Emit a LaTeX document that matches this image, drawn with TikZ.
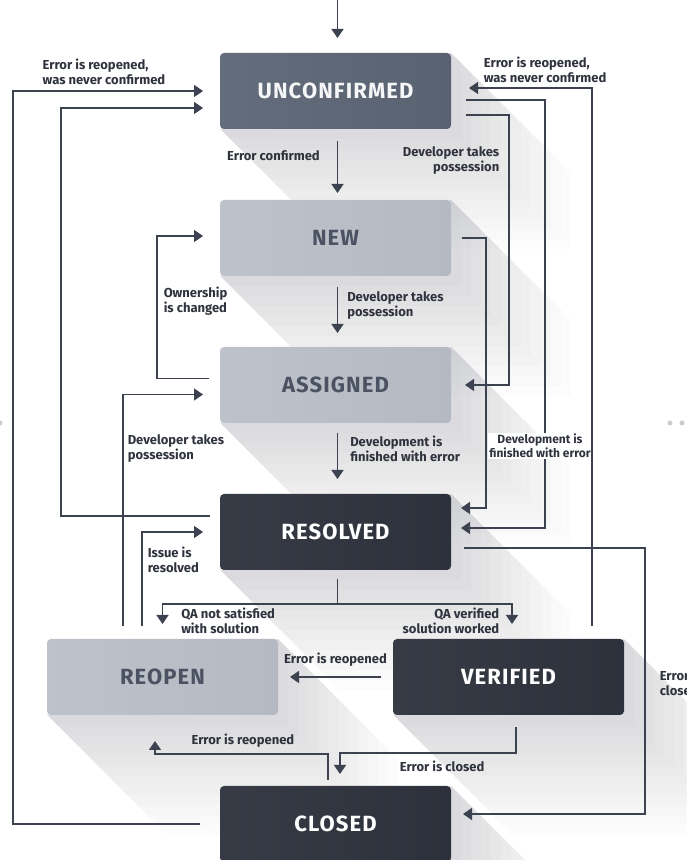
\documentclass[tikz,border=0pt]{standalone}
\usepackage{fontspec}
\setmainfont{Fira Sans}
\newfontfamily\boxfont{Fira Sans}[LetterSpace=5]
\usetikzlibrary{arrows.meta,positioning,backgrounds}

\definecolor{linegray}{HTML}{3D4250}
\definecolor{unconfcol}{HTML}{5B6574}
\definecolor{lightcol}{HTML}{B8BDC6}
\definecolor{darkcol}{HTML}{2F333D}
\definecolor{lighttext}{HTML}{4B5261}

\tikzset{
  statebox/.style={rounded corners=4pt, minimum width=231pt, minimum height=76pt,
    inner sep=0pt, outer sep=0pt, font=\boxfont\fontsize{22}{22}\selectfont\bfseries},
  unconfbox/.style={statebox, left color=unconfcol!95!white, right color=unconfcol!97!black, text=white!94!unconfcol},
  lightbox/.style={statebox, left color=lightcol!92!white, right color=lightcol!98!black, text=lighttext},
  darkbox/.style={statebox, left color=darkcol!96!white, right color=darkcol!96!black, text=white},
  lbl/.style={font=\fontsize{13}{15}\selectfont\bfseries, text=darkcol, inner sep=0pt, align=left},
}

\begin{document}
\begin{tikzpicture}[x=1pt, y=1pt, line width=1.5pt, color=linegray,
  arrows={-Triangle[length=9pt, width=12pt]}]
	\useasboundingbox (0,0) rectangle (686,860);
	\clip (0,0) rectangle (686,860);

	\node[unconfbox] (unconf) at (335.5,769) {UNCONFIRMED};
	\node[lightbox, below=71pt of unconf] (new) {NEW};
	\node[lightbox, below=71pt of new] (assigned) {ASSIGNED};
	\node[darkbox, below=71pt of assigned] (resolved) {RESOLVED};
	\node[lightbox, below=69pt of resolved, xshift=-173pt] (reopen) {REOPEN};
	\node[darkbox, below=69pt of resolved, xshift=173pt] (verified) {VERIFIED};
	\node[darkbox, below=216pt of resolved] (closed) {CLOSED};

	% long shadows
	\begin{scope}[on background layer]
		\fill[white] (0,0) rectangle (686,860);
		\foreach \n in {unconf,new,assigned,resolved,reopen,verified,closed}
			\foreach \l in {10,20,...,120}
				\fill[darkcol, opacity=0.01] (\n.north east) -- ++(\l,-\l)
					-- ([shift={(\l,-\l)}]\n.south east) -- ([shift={(\l,-\l)}]\n.south west)
					-- (\n.south west) -- cycle;
	\end{scope}

	\coordinate (entry) at (337.5,860);
	\draw[shorten >=15pt] (entry) -- ([xshift=2pt]unconf.north);

	% left side
	\draw[shorten <=20pt, shorten >=17pt] (closed.west) -| ([xshift=-207pt]unconf.west)
		-- node[lbl, pos=0.14, anchor=south west, yshift=6pt] {Error is reopened,\\was never confirmed} (unconf.west);
	\draw[shorten <=10pt, shorten >=17pt] ([yshift=16pt]resolved.west) -| ([xshift=-159pt, yshift=-17pt]unconf.west)
		-- ([yshift=-17pt]unconf.west);
	\draw[shorten <=11pt, shorten >=17pt] ([yshift=6.5pt]assigned.west)
		-| node[lbl, pos=0.77, anchor=west, xshift=6pt] {Ownership\\is changed} ([xshift=-63pt, yshift=2pt]new.west)
		-- ([yshift=2pt]new.west);
	\draw[shorten <=13pt, shorten >=17pt] ([xshift=-39.5pt]reopen.north)
		|- node[lbl, pos=0.39, anchor=west, xshift=4pt] {Developer takes\\possession} ([yshift=-9.5pt]assigned.west);
	\draw[shorten <=13pt, shorten >=17pt] ([xshift=-20.5pt]reopen.north)
		|- node[lbl, pos=0.37, anchor=west, xshift=5pt] {Issue is\\resolved} (resolved.west);

	% main column
	\draw[shorten <=12pt, shorten >=7pt] ([xshift=2pt]unconf.south)
		-- node[lbl, pos=0.38, anchor=east, xshift=-17pt] {Error confirmed} ([xshift=2pt]new.north);
	\draw[shorten <=11pt, shorten >=14pt] ([xshift=2pt]new.south)
		-- node[lbl, pos=0.41, anchor=west, xshift=9pt] {Developer takes\\possession} ([xshift=2pt]assigned.north);
	\draw[shorten <=10pt, shorten >=15pt] ([xshift=2pt]assigned.south)
		-- node[lbl, pos=0.37, anchor=west, xshift=12pt] {Development is\\finished with error} ([xshift=2pt]resolved.north);

	% split below resolved
	\coordinate (split) at ([xshift=2pt, yshift=-34pt]resolved.south);
	\draw[-, shorten <=9pt] ([xshift=2pt]resolved.south) -- (split);
	\draw[shorten >=15pt] (split) -| node[lbl, pos=0.745, anchor=west, xshift=18pt] {QA not satisfied\\with solution} (reopen.north);
	\draw[shorten >=15pt] (split) -| node[lbl, pos=0.745, anchor=east, xshift=-12pt, align=right] {QA verified\\solution worked} ([xshift=3.5pt]verified.north);

	% bottom
	\draw[shorten <=12pt, shorten >=12pt] (verified.west) -- node[lbl, above=10pt] {Error is reopened} (reopen.east);
	\draw[shorten <=12pt, shorten >=12pt] ([xshift=7.5pt]verified.south) -- ++(0,-38)
		-| node[lbl, pos=0.21, below=7pt] {Error is closed} ([xshift=4.5pt]closed.north);
	\draw[shorten <=6pt, shorten >=26pt] ([xshift=-7.5pt]closed.north) -- ++(0,32)
		-| node[lbl, pos=0.246, above=6pt] {Error is reopened} ([xshift=-7.5pt]reopen.south);

	% right side
	\draw[shorten <=15pt, shorten >=10pt] ([yshift=-9pt]unconf.east) -- ++(94,0)
		|- node[lbl, pos=0.404, xshift=-5pt, fill=white, inner sep=1pt, align=center,
		font=\fontsize{12}{14}\selectfont\bfseries] {Development is\\finished with error} ([yshift=4pt]resolved.east);
	\draw[shorten <=13pt, shorten >=18pt] ([xshift=83.5pt]verified.north)
		|- node[lbl, pos=0.886, anchor=south west, yshift=5pt] {Error is reopened,\\was never confirmed} ([yshift=3pt]unconf.east);
	\draw[shorten <=15pt, shorten >=14pt] ([yshift=-24pt]unconf.east) -- ++(58,0)
		|- node[lbl, pos=0.084, anchor=east, xshift=-9pt, align=right] {Developer takes\\possession} (assigned.east);
	\draw[shorten <=11pt, shorten >=10pt] (new.east) -- ++(35,0) |- ([yshift=24pt]resolved.east);
	\draw[shorten <=13pt, shorten >=12pt] ([yshift=-16pt]resolved.east) -- ++(194,0)
		|- node[lbl, pos=0.254, anchor=west, xshift=14pt] {Error is\\closed} ([yshift=10pt]closed.east);

	\fill[black!20] (670,437) circle (2.5pt) (682,437) circle (2.5pt) (0,437) circle (2.5pt);
\end{tikzpicture}
\end{document}
